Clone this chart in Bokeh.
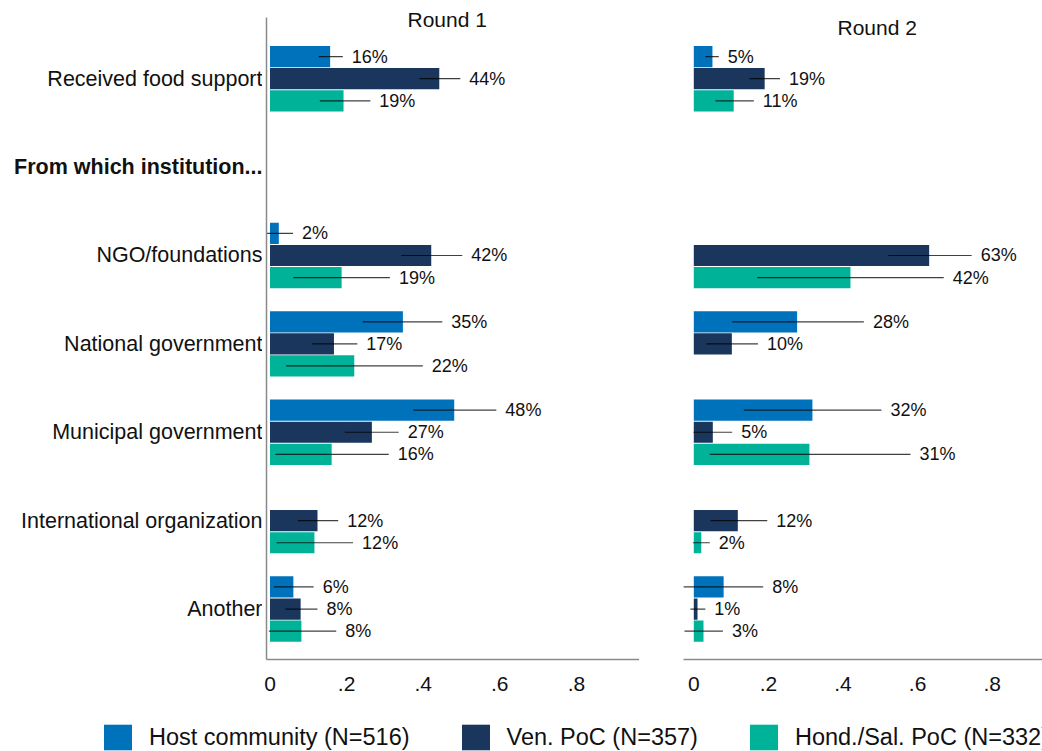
import pandas as pd
from bokeh.plotting import figure
from bokeh.layouts import column, row
from bokeh.models import Range1d, FixedTicker, Label, Legend, LegendItem, ColumnDataSource
from bokeh.core.properties import value
from bokeh.embed import file_html
from bokeh.resources import INLINE

# ---------------- data ----------------
categories = ["Received food support", "From which institution...", "NGO/foundations",
              "National government", "Municipal government", "International organization", "Another"]
header_category = "From which institution..."
groups = ["Host community (N=516)", "Ven. PoC (N=357)", "Hond./Sal. PoC (N=332)"]
colors = ["#0072BC", "#1A365D", "#00B398"]
panel_titles = ["Round 1", "Round 2"]
x_ticks = [0, 0.2, 0.4, 0.6, 0.8]
x_tick_labels = ["0", ".2", ".4", ".6", ".8"]

# Round 1 (share, CI low, CI high); None = not reported
r1_host = [0.157, None, 0.023, 0.347, 0.481, None, 0.061]
r1_host_lo = [0.127, None, -0.014, 0.242, 0.374, None, 0.010]
r1_host_hi = [0.190, None, 0.060, 0.450, 0.591, None, 0.114]
r1_ven = [0.442, None, 0.421, 0.167, 0.266, 0.124, 0.080]
r1_ven_lo = [0.390, None, 0.343, 0.110, 0.195, 0.073, 0.040]
r1_ven_hi = [0.497, None, 0.502, 0.228, 0.336, 0.178, 0.124]
r1_hond = [0.192, None, 0.187, 0.220, 0.161, 0.116, 0.082]
r1_hond_lo = [0.130, None, 0.061, 0.042, 0.014, 0.017, -0.003]
r1_hond_hi = [0.262, None, 0.313, 0.399, 0.310, 0.217, 0.173]

# Round 2
r2_host = [0.050, None, None, 0.277, 0.318, None, 0.080]
r2_host_lo = [0.031, None, None, 0.103, 0.134, None, -0.028]
r2_host_hi = [0.067, None, None, 0.456, 0.503, None, 0.186]
r2_ven = [0.190, None, 0.631, 0.102, 0.051, 0.118, 0.010]
r2_ven_lo = [0.149, None, 0.521, 0.034, -0.001, 0.045, -0.009]
r2_ven_hi = [0.231, None, 0.745, 0.172, 0.103, 0.197, 0.031]
r2_hond = [0.107, None, 0.420, None, 0.310, 0.020, 0.026]
r2_hond_lo = [0.058, None, 0.170, None, 0.043, -0.002, -0.025]
r2_hond_hi = [0.161, None, 0.670, None, 0.581, 0.043, 0.078]

FONT = "Liberation Sans"
TXT = "#111111"
n_cat = len(categories)
offsets = [0.25, 0.0, -0.25]
ROW_H = 708
Y_RANGE = Range1d(-0.571, 6.885)
Y_AXIS_BOUNDS = (-0.571, 6.693)


def build_source(series):
    rows = []
    for gi, (vals, los, his) in enumerate(series):
        for ci, cat in enumerate(categories):
            v = vals[ci]
            if v is None:
                continue
            rows.append(dict(cat=cat, group=groups[gi], color=colors[gi],
                             y=(n_cat - 1 - ci) + offsets[gi], v=v, lo=los[ci], hi=his[ci],
                             lab=f"{round(v * 100):.0f}%"))
    return ColumnDataSource(pd.DataFrame(rows))


def make_panel(src, x_start, x_end, width, min_left, title, title_x, title_y, show_yline):
    p = figure(width=width, height=ROW_H, x_range=Range1d(x_start, x_end), y_range=Y_RANGE,
               toolbar_location=None, output_backend="svg",
               min_border_left=min_left, min_border_right=0, min_border_top=0,
               min_border_bottom=49)
    p.outline_line_color = None
    p.xgrid.visible = False
    p.ygrid.visible = False

    p.hbar(y="y", left=0, right="v", height=0.24, fill_color="color", line_color=None,
           source=src)
    p.segment(x0="lo", x1="hi", y0="y", y1="y", line_color="black", line_alpha=0.75,
              line_width=1.2, source=src)
    p.text(x="hi", y="y", text="lab", x_offset=9, text_baseline="middle", text_align="left",
           text_font=value(FONT), text_font_size="18px", text_color=TXT, source=src)

    xa = p.xaxis[0]
    xa.ticker = FixedTicker(ticks=x_ticks)
    xa.major_label_overrides = {t: l for t, l in zip(x_ticks, x_tick_labels)}
    xa.major_tick_line_color = None
    xa.minor_tick_line_color = None
    xa.major_tick_out = 0
    xa.major_tick_in = 0
    xa.axis_line_color = "#8a8a8a"
    xa.axis_line_width = 1.5
    xa.major_label_text_font = FONT
    xa.major_label_text_font_size = "21px"
    xa.major_label_text_color = TXT
    xa.major_label_standoff = 17

    ya = p.yaxis[0]
    if show_yline:
        ya.ticker = FixedTicker(ticks=[])
        ya.bounds = Y_AXIS_BOUNDS
        ya.major_tick_line_color = None
        ya.minor_tick_line_color = None
        ya.major_tick_out = 0
        ya.major_tick_in = 0
        ya.major_label_standoff = 0
        ya.axis_line_color = "#8a8a8a"
        ya.axis_line_width = 1.5
    else:
        ya.visible = False

    p.add_layout(Label(x=title_x, y=title_y, text=title, text_align="center",
                       text_baseline="middle", text_font=FONT, text_font_size="21px",
                       text_color=TXT))
    return p


src1 = build_source([(r1_host, r1_host_lo, r1_host_hi), (r1_ven, r1_ven_lo, r1_ven_hi),
                     (r1_hond, r1_hond_lo, r1_hond_hi)])
src2 = build_source([(r2_host, r2_host_lo, r2_host_hi), (r2_ven, r2_ven_lo, r2_ven_hi),
                     (r2_hond, r2_hond_lo, r2_hond_hi)])

# ---------------- category labels (left strip, shares the y scale) ----------------
lab = figure(width=262, height=ROW_H, x_range=Range1d(0, 1), y_range=Y_RANGE,
             toolbar_location=None, output_backend="svg", x_axis_type=None, y_axis_type=None,
             min_border_left=0, min_border_right=0, min_border_top=0, min_border_bottom=49)
lab.outline_line_color = None
lab_src = ColumnDataSource(dict(
    y=[n_cat - 1 - i for i in range(n_cat)],
    x=[1.0] * n_cat,
    text=categories,
    style=["bold" if c == header_category else "normal" for c in categories],
))
lab.text(x="x", y="y", text="text", text_font_style="style", text_align="right",
         text_baseline="middle", text_font=value(FONT), text_font_size="21.5px",
         text_color=TXT, source=lab_src)

p1 = make_panel(src1, -0.00914, -0.00914 + 373 / 383, 377, 4, panel_titles[0], 0.4627,
                6.670, True)
p2 = make_panel(src2, -0.0276, -0.0276 + 359 / 373, 403, 44, panel_titles[1], 0.4917,
                6.580, False)

# ---------------- legend strip ----------------
leg = figure(width=1042, height=751 - ROW_H, toolbar_location=None, output_backend="svg",
             x_range=Range1d(0, 1), y_range=Range1d(0, 1), x_axis_type=None, y_axis_type=None,
             min_border=0)
leg.outline_line_color = None
items = []
for g, c in zip(groups, colors):
    # zero-size proxy renderer: only its legend swatch is shown
    r = leg.vbar(x=[0.5], top=[0.0], bottom=[0.0], width=0.0, fill_color=c, line_color=None)
    items.append(LegendItem(label=g, renderers=[r]))
legend = Legend(items=items, orientation="horizontal", location=(100, -2), glyph_width=35,
                glyph_height=32, label_standoff=14, spacing=48, padding=0, margin=0,
                border_line_color=None, background_fill_alpha=0, label_text_font=FONT,
                label_text_font_size="23.5px", label_text_color=TXT)
leg.add_layout(legend)

layout = column(row(lab, p1, p2), leg)
open("out.html", "w").write(file_html(layout, INLINE))
